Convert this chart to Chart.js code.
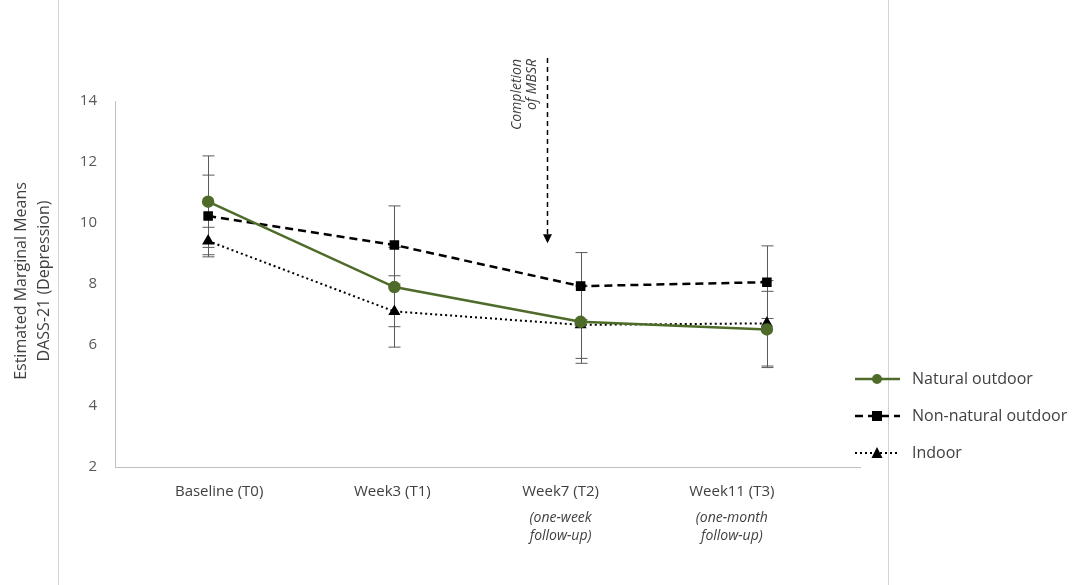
<!DOCTYPE html>
<html>
<head>
<meta charset="utf-8">
<script src="https://cdn.jsdelivr.net/npm/chart.js@4.4.1/dist/chart.umd.min.js"></script>
<style>
  html, body { margin: 0; padding: 0; background: #fff; }
  #wrap { width: 1074px; height: 585px; }
</style>
</head>
<body>
<div id="wrap"><canvas id="dass"></canvas></div>
<script>
// time points
var labels = ["Baseline (T0)", "Week3 (T1)", "Week7 (T2)", "Week11 (T3)"];
var notes = ["", "", "(one-week|follow-up)", "(one-month|follow-up)"];

// estimated marginal means
var natural    = [10.70, 7.90, 6.76, 6.51];
var nonNatural = [10.23, 9.28, 7.93, 8.06];
var indoor     = [9.41, 7.10, 6.66, 6.71];

// error bar half-widths
var naturalErr    = [1.50, 1.30, 1.20, 1.25];
var nonNaturalErr = [1.34, 1.28, 1.10, 1.19];
var indoorErr     = [0.45, 1.17, 1.26, 1.40];

var yTicks = [2, 4, 6, 8, 10, 12, 14];

var textColor = '#404040';
var fontFam = '"Open Sans", "Noto Sans", sans-serif';
// x labels sit a little off the points in the original
var labelShift = [11, -2, -20, -35];

var extras = {
    id: 'extras',
    beforeDraw: function(chart) {
        var c = chart.ctx;
        c.save();
        c.strokeStyle = '#d4d4d4';
        c.lineWidth = 1;
        c.beginPath();
        c.moveTo(58.5, 0); c.lineTo(58.5, chart.height);
        c.moveTo(888.5, 0); c.lineTo(888.5, chart.height);
        c.stroke();
        c.restore();
    },
    beforeDatasetsDraw: function(chart) {
        var c = chart.ctx, xs = chart.scales.x, ys = chart.scales.y;
        c.save();
        c.strokeStyle = '#5a5a5a';
        c.lineWidth = 1;
        chart.data.datasets.forEach(function(ds) {
            ds.data.forEach(function(v, i) {
                var x = Math.round(xs.getPixelForValue(i)) + 0.5;
                var top = ys.getPixelForValue(v + ds.err[i]);
                var bot = ys.getPixelForValue(v - ds.err[i]);
                c.beginPath();
                c.moveTo(x, top); c.lineTo(x, bot);
                c.moveTo(x - 6, top); c.lineTo(x + 6, top);
                c.moveTo(x - 6, bot); c.lineTo(x + 6, bot);
                c.stroke();
            });
        });
        c.restore();
    },
    afterDraw: function(chart) {
        var c = chart.ctx, xs = chart.scales.x, ys = chart.scales.y;
        c.save();
        // x labels and italic notes
        c.fillStyle = textColor;
        c.textAlign = 'center';
        c.textBaseline = 'middle';
        labels.forEach(function(lab, i) {
            var x = xs.getPixelForValue(i) + labelShift[i];
            c.font = '15px ' + fontFam;
            c.fillText(lab, x, 492);
            if (!notes[i]) return;
            c.font = 'italic 14px ' + fontFam;
            notes[i].split('|').forEach(function(line, k) {
                c.fillText(line, x, 518 + k * 18);
            });
        });

        // completion arrow
        var ax = Math.round(xs.getPixelForValue(1.82)) + 0.5;
        var tipY = ys.getPixelForValue(9.34);
        c.strokeStyle = '#000';
        c.lineWidth = 1.5;
        c.setLineDash([5, 4]);
        c.beginPath();
        c.moveTo(ax, 58); c.lineTo(ax, tipY - 8);
        c.stroke();
        c.setLineDash([]);
        c.fillStyle = '#000';
        c.beginPath();
        c.moveTo(ax - 4.5, tipY - 9); c.lineTo(ax + 4.5, tipY - 9); c.lineTo(ax, tipY);
        c.closePath();
        c.fill();

        c.fillStyle = textColor;
        c.font = 'italic 14px ' + fontFam;
        c.textAlign = 'right';
        c.textBaseline = 'middle';
        c.translate(ax - 30, 59);
        c.rotate(-Math.PI / 2);
        c.fillText('Completion', 0, 0);
        c.fillText('of MBSR', 0, 15);
        c.setTransform(1, 0, 0, 1, 0, 0);

        // y title
        c.font = '16px ' + fontFam;
        c.textAlign = 'center';
        c.translate(21, 281);
        c.rotate(-Math.PI / 2);
        c.fillText('Estimated Marginal Means', 0, 0);
        c.fillText('DASS-21 (Depression)', 0, 23);
        c.setTransform(1, 0, 0, 1, 0, 0);

        // legend
        chart.data.datasets.forEach(function(ds, i) {
            var y = 379 + i * 37;
            c.strokeStyle = ds.borderColor;
            c.lineWidth = ds.borderWidth;
            c.setLineDash(ds.borderDash || []);
            c.beginPath();
            c.moveTo(855, y); c.lineTo(900, y);
            c.stroke();
            c.setLineDash([]);
            c.fillStyle = ds.pointBackgroundColor;
            var mx = 877;
            c.beginPath();
            if (ds.pointStyle === 'circle') {
                c.arc(mx, y, 5, 0, Math.PI * 2);
            } else if (ds.pointStyle === 'rect') {
                c.rect(mx - 5, y - 5, 10, 10);
            } else {
                c.moveTo(mx - 5.5, y + 5); c.lineTo(mx + 5.5, y + 5); c.lineTo(mx, y - 6);
                c.closePath();
            }
            c.fill();
            c.fillStyle = textColor;
            c.font = '16px ' + fontFam;
            c.textAlign = 'left';
            c.fillText(ds.label, 912, y);
        });
        c.restore();
    }
};

var ctx = document.getElementById('dass').getContext('2d');
var chart = new Chart(ctx, {
    type: 'line',
    data: {
        labels: labels,
        datasets: [{
            label: 'Natural outdoor',
            data: natural,
            err: naturalErr,
            borderColor: '#4e6b2a',
            borderWidth: 2.5,
            pointStyle: 'circle',
            pointRadius: 5,
            pointBackgroundColor: '#4e6b2a',
            pointBorderColor: '#4e6b2a',
            tension: 0
        }, {
            label: 'Non-natural outdoor',
            data: nonNatural,
            err: nonNaturalErr,
            borderColor: '#000',
            borderWidth: 2.5,
            borderDash: [8, 5],
            pointStyle: 'rect',
            pointRadius: 5,
            pointBackgroundColor: '#000',
            pointBorderColor: '#000',
            tension: 0
        }, {
            label: 'Indoor',
            data: indoor,
            err: indoorErr,
            borderColor: '#000',
            borderWidth: 2,
            borderDash: [2, 3],
            pointStyle: 'triangle',
            pointRadius: 5,
            pointBackgroundColor: '#000',
            pointBorderColor: '#000',
            tension: 0
        }]
    },
    options: {
        responsive: true,
        maintainAspectRatio: false,
        animation: false,
        layout: { padding: { left: 55, top: 101, right: 214, bottom: 0 } },
        plugins: {
            legend: { display: false },
            tooltip: { enabled: false }
        },
        scales: {
            x: {
                type: 'category',
                offset: true,
                afterFit: function(s) { s.height = 118; },
                grid: { display: false, drawTicks: false },
                border: { color: '#bfbfbf', width: 1 },
                ticks: { display: false }
            },
            y: {
                min: 2,
                max: 14,
                afterFit: function(s) { s.width = 60; },
                afterBuildTicks: function(s) { s.ticks = yTicks.map(function(v) { return { value: v }; }); },
                grid: { display: false, drawTicks: false },
                border: { color: '#bfbfbf', width: 1 },
                ticks: { color: '#595959', padding: 18, font: { family: fontFam, size: 15 } }
            }
        }
    },
    plugins: [extras]
});
</script>
</body>
</html>
